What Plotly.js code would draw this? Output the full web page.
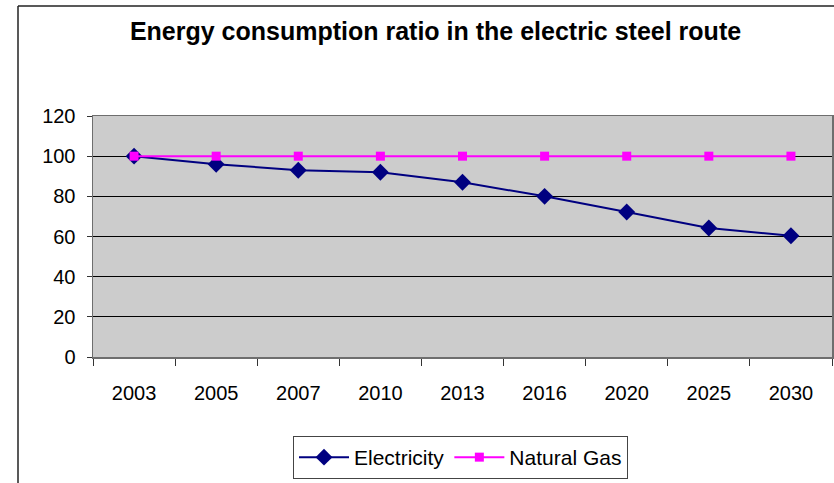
<!DOCTYPE html>
<html>
<head>
<meta charset="utf-8">
<script src="https://cdn.plot.ly/plotly-3.0.1.min.js"></script>
<style>html,body{margin:0;padding:0;background:#fff;}#chart{width:834px;height:483px;}</style>
</head>
<body>
<div id="chart"></div>
<script>
const years = ["2003","2005","2007","2010","2013","2016","2020","2025","2030"];
const electricity = [100, 96, 93, 92, 87, 80, 72.2, 64.2, 60.4];
const naturalGas = [100, 100, 100, 100, 100, 100, 100, 100, 100];
const yTicks = [0, 20, 40, 60, 80, 100, 120];

const traces = [
  {
    x: years, y: electricity, name: "Electricity", type: "scatter", mode: "lines+markers",
    line: {color: "#000080", width: 2},
    marker: {symbol: "diamond", size: 13, color: "#000080"}
  },
  {
    x: years, y: naturalGas, name: "Natural Gas", type: "scatter", mode: "lines+markers",
    line: {color: "#FF00FF", width: 2},
    marker: {symbol: "square", size: 9, color: "#FF00FF"}
  }
];

const layout = {
  width: 834, height: 483,
  margin: {l: 93, r: 2, t: 116, b: 126},
  paper_bgcolor: "#ffffff",
  plot_bgcolor: "#CCCCCC",
  font: {family: "Arial, Liberation Sans, sans-serif", size: 20, color: "#000"},
  title: {
    text: "<b>Energy consumption ratio in the electric steel route</b>",
    font: {family: "Arial, Liberation Sans, sans-serif", size: 25, color: "#000"},
    x: 435.5/834, xanchor: "center", xref: "container",
    y: 1 - 31/483, yanchor: "middle", yref: "container"
  },
  xaxis: {
    type: "category", range: [-0.5, 8.5],
    showgrid: false, zeroline: false,
    showline: true, linecolor: "#6e6e6e", linewidth: 1.5, mirror: true,
    ticks: "outside", ticklen: 7, tickcolor: "#333", tickwidth: 1,
    tickson: "boundaries", ticklabelstandoff: 17,
    tickfont: {size: 20}
  },
  yaxis: {
    range: [0, 120], tickvals: yTicks, ticktext: yTicks.map(String),
    showgrid: true, gridcolor: "#000000", gridwidth: 1,
    zeroline: false,
    showline: true, linecolor: "#6e6e6e", linewidth: 1.5, mirror: true,
    ticks: "outside", ticklen: 5, tickcolor: "#333", tickwidth: 1,
    ticklabelstandoff: 7,
    tickfont: {size: 20}
  },
  showlegend: true,
  legend: {
    orientation: "h",
    x: (293-93)/739, xanchor: "left",
    y: (357-436)/241, yanchor: "top",
    bgcolor: "#ffffff", bordercolor: "#444", borderwidth: 1,
    font: {size: 21}, itemwidth: 50, tracegroupgap: 0
  },
  shapes: [
    {type: "line", xref: "paper", yref: "paper", x0: (18-93)/739, x1: (834-93)/739, y0: (357-6)/241, y1: (357-6)/241, line: {color: "#222", width: 1.5}},
    {type: "line", xref: "paper", yref: "paper", x0: (18-93)/739, x1: (18-93)/739, y0: (357-6)/241, y1: (357-483)/241, line: {color: "#222", width: 1.5}}
  ]
};

Plotly.newPlot("chart", traces, layout, {displayModeBar: false, staticPlot: true});
</script>
</body>
</html>
